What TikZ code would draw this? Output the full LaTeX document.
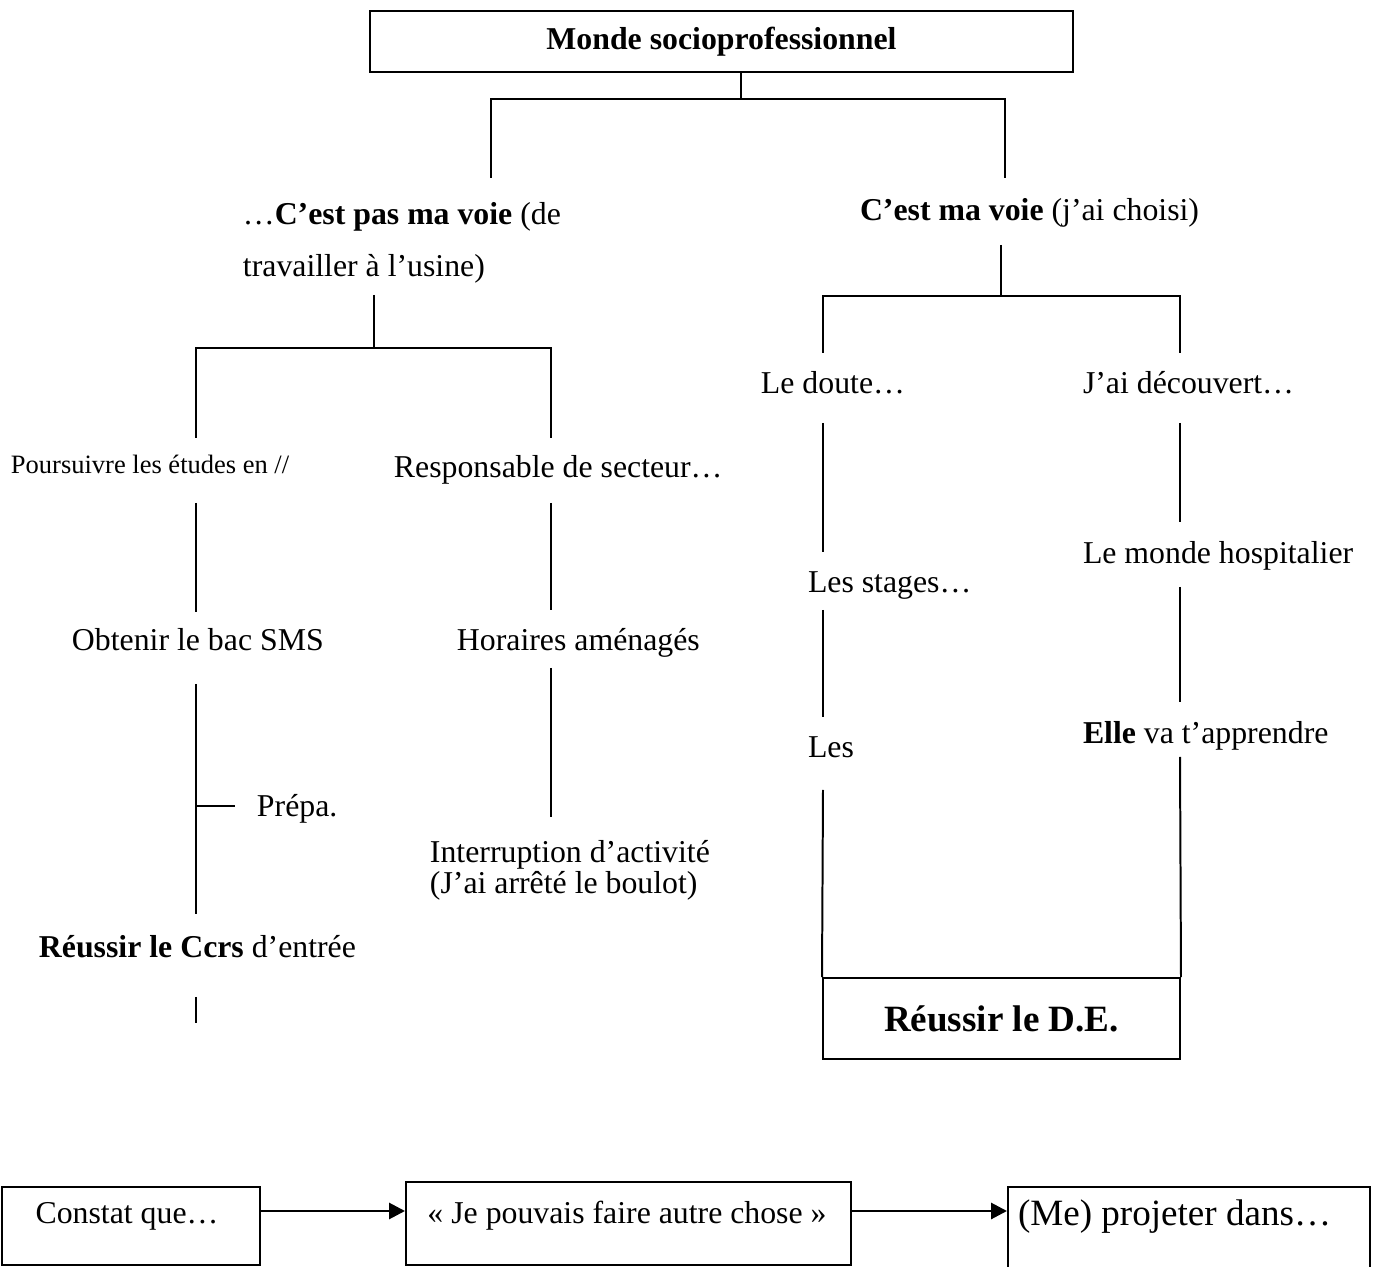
\documentclass[tikz,border=0pt]{standalone}
\usepackage{fontspec}
\setmainfont{Liberation Serif}
\usetikzlibrary{arrows.meta}
\newdimen\pxu \pxu=0.3774pt
\begin{document}
\begin{tikzpicture}[x=0.3774pt,y=-0.3774pt, line width=0.75pt,
  lbl/.style={inner sep=0pt, anchor=base west, font=\fontsize{12}{14}\selectfont},
  small/.style={inner sep=0pt, anchor=base west, font=\fontsize{10}{12}\selectfont},
  box/.style 2 args={draw, line width=0.75pt, inner sep=0pt, minimum width=#1*\pxu, minimum height=#2*\pxu},
  arr/.style={line width=1.1pt, -{Triangle[length=6pt,width=6pt]}}]
\useasboundingbox (0,0) rectangle (1373,1267);
\clip (0,0) rectangle (1373,1267);

% top
\node[box={703}{61}, font=\fontsize{12}{14}\selectfont\bfseries] (top) at (721.5,41.5) {Monde socioprofessionnel};
\coordinate (j1) at (741,99);
\draw (top.south -| j1) -- (j1);
\draw (491,178) -- (491,99) -- (1005,99) -- (1005,178);

% second level
\node[lbl] (pv1) at (242,225) {…\textbf{C’est pas ma voie} (de};
\node[lbl] (pv2) at (242,277) {travailler à l’usine)};
\node[lbl] (mv) at (859,221) {\textbf{C’est ma voie} (j’ai choisi)};

% left subtree
\draw (374,295) -- (374,348);
\draw (196,438) -- (196,348) -- (551,348) -- (551,438);
\node[small] (pours) at (10,474) {Poursuivre les études en //};
\node[lbl] (resp) at (393,478) {Responsable de secteur…};
\draw (196,503) -- (196,612);
\draw (551,503) -- (551,610);
\node[lbl] (obt) at (71,651) {Obtenir le bac SMS};
\node[lbl] (hor) at (456,651) {Horaires aménagés};
\draw (196,684) -- (196,914);
\draw (196,806) -- (235,806);
\node[lbl] (prepa) at (256,817) {Prépa.};
\node[lbl] (reuss) at (38,958) {\textbf{Réussir le Ccrs} d’entrée};
\draw (196,997) -- (196,1023);
\draw (551,668) -- (551,817);
\node[lbl] (interr) at (429,863) {Interruption d’activité};
\node[lbl] (jai) at (429,894) {(J’ai arrêté le boulot)};

% right subtree
\draw (1001,245) -- (1001,296);
\draw (823,353) -- (823,296) -- (1180,296) -- (1180,353);
\node[lbl] (doute) at (760,394) {Le doute…};
\node[lbl] (dec) at (1082,394) {J’ai découvert…};
\draw (823,423) -- (823,552);
\node[lbl] (stages) at (807,593) {Les stages…};
\draw (823,610) -- (823,717);
\node[lbl] (les) at (807,758) {Les};
\draw (1180,423) -- (1180,522);
\node[lbl] (monde) at (1082,564) {Le monde hospitalier};
\draw (1180,587) -- (1180,702);
\node[lbl] (elle) at (1082,744) {\textbf{Elle} va t’apprendre};
\node[box={357}{81}, font=\fontsize{14}{16}\selectfont\bfseries] (de) at (1001.5,1018.5) {Réussir le D.E.};
\draw (823,790) -- (de.north west);
\draw (1180,757) -- (de.north east);

% bottom row
\node[box={258}{78}] (b1) at (131,1226) {};
\node[box={445}{83}] (b2) at (628.5,1223.5) {};
\node[box={362}{88}] (b3) at (1189,1231) {};
\node[inner sep=0pt, anchor=base, font=\fontsize{12}{14}\selectfont] (t1) at (127,1223) {Constat que…};
\node[inner sep=0pt, anchor=base, font=\fontsize{12}{14}\selectfont] (t2) at (627,1223) {« Je pouvais faire autre chose »};
\node[inner sep=0pt, anchor=base west, font=\fontsize{14}{16}\selectfont] (t3) at (1017,1225) {(Me) projeter dans…};
\coordinate (ay) at (0,1211);
\draw[arr] (b1.east |- ay) -- (b2.west |- ay);
\draw[arr] (b2.east |- ay) -- (b3.west |- ay);
\end{tikzpicture}
\end{document}
